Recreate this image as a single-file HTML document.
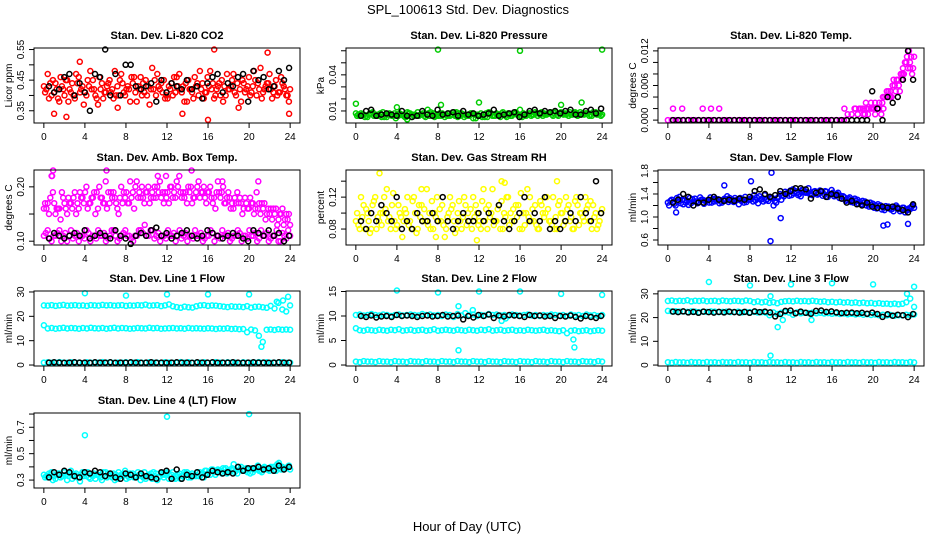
<!DOCTYPE html>
<html><head><meta charset="utf-8"><style>
html,body{margin:0;padding:0;background:#fff}
svg{display:block;font-family:"Liberation Sans",sans-serif}
</style></head><body>
<svg id="chart" width="936" height="540" viewBox="0 0 936 540" xmlns="http://www.w3.org/2000/svg">
<rect width="936" height="540" fill="#fff"/>
<text x="468" y="14" text-anchor="middle" font-size="13">SPL_100613  Std. Dev. Diagnostics</text>
<text x="467" y="531" text-anchor="middle" font-size="13">Hour of Day (UTC)</text>
</svg>
<script>
const xTickValues=[0,4,8,12,16,20,24];
const co2Red1=[0.43,0.47,0.40,0.44,0.38,0.42,0.45,0.41,0.39,0.46,0.43,0.40,0.48,0.42,0.37,0.44,0.41,0.45,0.39,0.43,0.47,0.40,0.42,0.44,0.38,0.46,0.41,0.43,0.49,0.40,0.42,0.45,0.39,0.44,0.41,0.47,0.43,0.38,0.42,0.46,0.40,0.44,0.41,0.48,0.39,0.43,0.45,0.40,0.42,0.47,0.44,0.38,0.41,0.46,0.43,0.40,0.49,0.42,0.44,0.39,0.45,0.41,0.43,0.40];
const co2Red2=[0.41,0.39,0.45,0.42,0.46,0.40,0.38,0.44,0.47,0.41,0.37,0.45,0.42,0.40,0.46,0.39,0.43,0.41,0.48,0.40,0.44,0.42,0.38,0.46,0.43,0.40,0.45,0.37,0.42,0.47,0.44,0.39,0.43,0.40,0.46,0.42,0.38,0.45,0.41,0.43,0.48,0.39,0.46,0.42,0.40,0.44,0.38,0.47,0.43,0.41,0.36,0.45,0.42,0.40,0.48,0.44,0.39,0.43,0.47,0.41,0.40,0.46,0.42,0.38];
const co2Red3=[0.42,0.44,0.41,0.39,0.43,0.45,0.42,0.40,0.44,0.42,0.41,0.43,0.45,0.39,0.42,0.41,0.44,0.42,0.40,0.45,0.41,0.43,0.46,0.41,0.42,0.44,0.40,0.42,0.45,0.43,0.41,0.40,0.42,0.46,0.43,0.41,0.44,0.42,0.39,0.44,0.42,0.41,0.43,0.44,0.42,0.40,0.43,0.42,0.45,0.40,0.42,0.44,0.43,0.41,0.45,0.42,0.41,0.44,0.42,0.43,0.41,0.44,0.40,0.42];
const co2OutHours=[2.2,3.5,16.0,16.6,21.8,13.5,23.9,1.0,7.2];
const co2OutValues=[0.33,0.51,0.32,0.55,0.54,0.34,0.34,0.34,0.36];
const co2Black=[0.43,0.41,0.42,0.46,0.47,0.40,0.44,0.41,0.35,0.47,0.46,0.55,0.40,0.47,0.40,0.50,0.50,0.43,0.42,0.43,0.44,0.38,0.45,0.41,0.44,0.43,0.42,0.45,0.42,0.43,0.39,0.44,0.46,0.47,0.41,0.44,0.43,0.46,0.47,0.38,0.48,0.45,0.46,0.42,0.43,0.48,0.45,0.49];
const presGreen1=[0.008,0.006,0.007,0.005,0.008,0.007,0.006,0.009,0.005,0.007,0.008,0.006,0.007,0.005,0.008,0.006,0.009,0.007,0.005,0.006,0.008,0.007,0.006,0.005,0.008,0.007,0.009,0.006,0.005,0.007,0.008,0.004,0.006,0.007,0.005,0.008,0.006,0.007,0.009,0.005,0.006,0.008,0.007,0.005,0.006,0.008,0.007,0.006,0.009,0.007,0.008,0.006,0.007,0.009,0.008,0.006,0.007,0.008,0.009,0.007,0.008,0.006,0.009,0.008];
const presGreen2=[0.006,0.008,0.005,0.007,0.009,0.006,0.008,0.005,0.007,0.006,0.004,0.008,0.006,0.009,0.005,0.007,0.006,0.008,0.007,0.009,0.005,0.006,0.008,0.007,0.006,0.009,0.005,0.008,0.007,0.006,0.004,0.007,0.008,0.005,0.009,0.006,0.008,0.005,0.007,0.008,0.006,0.009,0.005,0.008,0.007,0.006,0.009,0.008,0.006,0.007,0.009,0.008,0.006,0.008,0.007,0.009,0.008,0.006,0.007,0.008,0.006,0.009,0.007,0.006];
const presGreen3=[0.007,0.007,0.006,0.008,0.006,0.007,0.005,0.007,0.008,0.006,0.007,0.007,0.005,0.008,0.007,0.006,0.007,0.006,0.008,0.007,0.006,0.008,0.007,0.006,0.007,0.006,0.008,0.007,0.006,0.008,0.007,0.006,0.005,0.008,0.007,0.006,0.007,0.008,0.006,0.007,0.008,0.007,0.006,0.007,0.008,0.007,0.008,0.007,0.008,0.008,0.007,0.009,0.008,0.007,0.008,0.007,0.009,0.007,0.008,0.008,0.007,0.008,0.008,0.007];
const presOutHours=[0,4,8,8.3,12,16,20,22,24,7,16,5];
const presOutValues=[0.016,0.013,0.061,0.015,0.017,0.060,0.015,0.017,0.061,0.011,0.011,0.003];
const presBlack=[0.006,0.010,0.011,0.006,0.007,0.008,0.007,0.006,0.010,0.006,0.005,0.006,0.010,0.007,0.006,0.011,0.007,0.008,0.009,0.006,0.010,0.007,0.008,0.006,0.007,0.008,0.011,0.006,0.007,0.008,0.009,0.005,0.007,0.010,0.011,0.008,0.010,0.009,0.010,0.008,0.010,0.011,0.007,0.007,0.010,0.011,0.008,0.012];
const tempMag1=[0,0,0,0,0,0,0,0,0,0,0,0,0,0,0,0,0,0,0,0,0,0,0,0,0,0,0,0,0,0,0,0,0,0,0,0,0,0,0,0,0,0,0,0,0.000,0.000,0.001,0.001,0.002,0.002,0.001,0.002,0.002,0.003,0.002,0.004,0.005,0.004,0.006,0.007,0.008,0.010,0.009,0.011];
const tempMagHours=[17.2,18.2,18.8,19.0,19.3,19.6,19.8,20.1,20.4,20.6,20.9,21.1,21.3,21.5,21.7,21.9,22.1,22.3,22.5,22.7,22.9,23.1,23.3,23.5,23.7,23.9,20.2,21.0,21.8,22.6,23.4,23.8,0.5,1.4,3.4,4.2,5.0,19.5,20.0,22.0,21.6,22.2,22.8,23.0,23.6,20.8,19.2,18.5];
const tempMagValues=[0.002,0.002,0.002,0.002,0.003,0.002,0.003,0.002,0.002,0.003,0.003,0.004,0.004,0.005,0.005,0.006,0.006,0.007,0.006,0.008,0.009,0.010,0.011,0.012,0.011,0.009,0.001,0.002,0.004,0.005,0.009,0.008,0.002,0.002,0.002,0.002,0.002,0.001,0.002,0.007,0.004,0.005,0.007,0.008,0.010,0.001,0.001,0.001];
const tempBlack=[0,0,0,0,0,0,0,0,0,0,0,0,0,0,0,0,0,0,0,0,0,0,0,0,0,0,0,0,0,0,0,0,0,0,0,0,0,0,0.000,0.005,0.002,0.000,0.004,0.003,0.004,0.007,0.012,0.007];
const ambUpper1=[0.16,0.17,0.22,0.15,0.16,0.18,0.15,0.17,0.19,0.16,0.18,0.20,0.17,0.19,0.16,0.18,0.21,0.17,0.19,0.16,0.20,0.18,0.17,0.19,0.21,0.18,0.17,0.20,0.19,0.18,0.21,0.17,0.19,0.20,0.18,0.22,0.19,0.17,0.20,0.18,0.21,0.19,0.17,0.20,0.18,0.21,0.19,0.17,0.18,0.16,0.19,0.17,0.18,0.16,0.17,0.19,0.15,0.17,0.16,0.14,0.16,0.15,0.13,0.14];
const ambUpper2=[0.17,0.15,0.19,0.16,0.14,0.17,0.18,0.16,0.15,0.19,0.17,0.16,0.18,0.15,0.20,0.17,0.16,0.19,0.18,0.15,0.17,0.19,0.21,0.16,0.18,0.20,0.19,0.17,0.18,0.20,0.18,0.19,0.17,0.18,0.21,0.19,0.18,0.20,0.17,0.19,0.18,0.20,0.19,0.18,0.16,0.19,0.20,0.18,0.16,0.18,0.17,0.15,0.17,0.18,0.15,0.16,0.17,0.14,0.15,0.16,0.13,0.15,0.14,0.15];
const ambUpper3=[0.16,0.18,0.17,0.16,0.19,0.16,0.17,0.18,0.17,0.18,0.19,0.17,0.18,0.19,0.18,0.17,0.19,0.18,0.17,0.18,0.19,0.17,0.18,0.20,0.19,0.18,0.19,0.18,0.20,0.19,0.19,0.18,0.20,0.19,0.20,0.18,0.19,0.19,0.18,0.20,0.19,0.18,0.19,0.17,0.19,0.18,0.17,0.19,0.17,0.17,0.18,0.16,0.16,0.17,0.16,0.17,0.16,0.15,0.16,0.15,0.14,0.16,0.15,0.13];
const ambLower=[0.11,0.12,0.10,0.11,0.12,0.11,0.10,0.12,0.11,0.10,0.11,0.12,0.10,0.11,0.12,0.11,0.10,0.11,0.12,0.10,0.11,0.12,0.11,0.10,0.11,0.12,0.13,0.11,0.12,0.11,0.10,0.11,0.12,0.11,0.10,0.12,0.11,0.10,0.11,0.12,0.11,0.10,0.11,0.12,0.10,0.11,0.12,0.11,0.10,0.11,0.12,0.10,0.11,0.12,0.11,0.10,0.12,0.11,0.10,0.11,0.12,0.10,0.11,0.12];
const ambLower2=[0.115,0.105,0.11,0.115,0.10,0.115,0.11,0.105,0.115,0.11,0.105,0.115,0.11,0.105,0.11,0.115,0.105,0.12,0.11,0.105,0.115,0.11,0.105,0.11,0.12,0.115,0.11,0.12,0.105,0.115,0.11,0.105,0.11,0.115,0.11,0.105,0.115,0.11,0.105,0.11,0.115,0.105,0.11,0.115,0.11,0.105,0.11,0.115,0.105,0.11,0.115,0.11,0.105,0.11,0.115,0.105,0.11,0.115,0.105,0.11,0.10,0.115,0.105,0.11];
const ambOutHours=[0.8,0.9,6.1,11.1,11.9,17.4,20.9,14.4];
const ambOutValues=[0.22,0.23,0.23,0.22,0.22,0.21,0.21,0.23];
const ambBlack=[0.105,0.115,0.11,0.105,0.11,0.115,0.11,0.12,0.105,0.11,0.115,0.11,0.105,0.12,0.11,0.105,0.095,0.11,0.115,0.11,0.12,0.125,0.11,0.115,0.105,0.11,0.115,0.12,0.11,0.105,0.11,0.12,0.115,0.11,0.105,0.11,0.115,0.11,0.105,0.10,0.12,0.115,0.11,0.12,0.11,0.115,0.10,0.11];
const rhYellow1=[0.09,0.08,0.11,0.10,0.08,0.12,0.09,0.10,0.13,0.08,0.09,0.11,0.07,0.10,0.09,0.12,0.08,0.11,0.09,0.10,0.08,0.12,0.09,0.07,0.10,0.11,0.08,0.09,0.12,0.10,0.08,0.11,0.09,0.13,0.08,0.10,0.09,0.11,0.08,0.12,0.10,0.09,0.11,0.08,0.10,0.12,0.09,0.08,0.11,0.10,0.09,0.12,0.08,0.10,0.09,0.11,0.08,0.12,0.10,0.09,0.11,0.08,0.10,0.09];
const rhYellow2=[0.10,0.12,0.08,0.09,0.11,0.08,0.10,0.12,0.09,0.11,0.08,0.10,0.09,0.12,0.08,0.10,0.11,0.09,0.13,0.08,0.10,0.09,0.11,0.08,0.12,0.09,0.10,0.08,0.11,0.09,0.12,0.10,0.08,0.09,0.11,0.13,0.09,0.08,0.10,0.12,0.09,0.11,0.08,0.10,0.13,0.09,0.11,0.08,0.10,0.12,0.09,0.08,0.11,0.10,0.12,0.09,0.08,0.11,0.10,0.12,0.09,0.11,0.08,0.10];
const rhYellow3=[0.085,0.095,0.105,0.075,0.115,0.095,0.085,0.105,0.095,0.125,0.085,0.095,0.105,0.085,0.115,0.075,0.095,0.105,0.085,0.115,0.095,0.105,0.085,0.095,0.105,0.075,0.115,0.095,0.085,0.105,0.095,0.085,0.115,0.105,0.095,0.085,0.105,0.115,0.095,0.085,0.105,0.095,0.125,0.085,0.095,0.105,0.085,0.115,0.095,0.105,0.085,0.095,0.115,0.085,0.105,0.095,0.115,0.085,0.095,0.105,0.115,0.095,0.085,0.105];
const rhOutHours=[2.3,7.8,11.8,14.2,14.5,19.6,6.4];
const rhOutValues=[0.15,0.07,0.066,0.14,0.138,0.14,0.13];
const rhBlack=[0.09,0.08,0.10,0.09,0.11,0.10,0.09,0.12,0.08,0.09,0.08,0.10,0.09,0.09,0.10,0.09,0.12,0.09,0.08,0.09,0.10,0.09,0.09,0.10,0.09,0.10,0.09,0.11,0.09,0.08,0.09,0.10,0.12,0.09,0.10,0.09,0.12,0.08,0.09,0.08,0.09,0.10,0.09,0.12,0.10,0.09,0.14,0.10];
const flowBlue1=[1.25,1.30,1.20,1.35,1.22,1.28,1.24,1.32,1.26,1.30,1.28,1.34,1.27,1.31,1.25,1.29,1.33,1.26,1.30,1.28,1.35,1.31,1.27,1.34,1.30,1.38,1.28,1.33,1.25,1.40,1.36,1.42,1.38,1.45,1.40,1.47,1.43,1.39,1.45,1.41,1.37,1.44,1.40,1.36,1.42,1.32,1.28,1.34,1.25,1.30,1.22,1.27,1.18,1.23,1.15,1.20,1.12,1.18,1.14,1.20,1.10,1.16,1.12,1.18];
const flowBlue2=[1.20,1.26,1.33,1.24,1.29,1.21,1.31,1.27,1.34,1.23,1.29,1.25,1.32,1.24,1.30,1.36,1.28,1.33,1.22,1.31,1.26,1.30,1.38,1.24,1.32,1.29,1.35,1.20,1.33,1.30,1.44,1.37,1.48,1.42,1.36,1.44,1.50,1.38,1.42,1.46,1.40,1.35,1.47,1.38,1.33,1.36,1.30,1.26,1.32,1.23,1.28,1.20,1.25,1.16,1.22,1.13,1.19,1.15,1.10,1.17,1.13,1.08,1.15,1.20];
const flowBlue3=[1.28,1.23,1.27,1.30,1.25,1.33,1.27,1.24,1.30,1.28,1.25,1.31,1.29,1.27,1.32,1.26,1.30,1.29,1.33,1.25,1.30,1.33,1.29,1.36,1.27,1.31,1.33,1.28,1.35,1.38,1.40,1.46,1.41,1.38,1.47,1.42,1.40,1.44,1.39,1.43,1.45,1.38,1.42,1.40,1.37,1.34,1.32,1.30,1.28,1.26,1.25,1.23,1.21,1.20,1.19,1.17,1.16,1.13,1.17,1.14,1.16,1.12,1.14,1.16];
const flowOutHours=[10.0,10.1,8.1,11,21,21.4,23.4,5.5,0.8];
const flowOutValues=[0.58,1.77,1.62,0.98,0.85,0.87,0.88,1.55,1.08];
const flowBlack=[1.25,1.30,1.40,1.35,1.20,1.25,1.25,1.30,1.35,1.30,1.28,1.30,1.28,1.32,1.30,1.35,1.45,1.48,1.40,1.35,1.38,1.45,1.40,1.45,1.50,1.50,1.48,1.32,1.42,1.45,1.35,1.40,1.38,1.32,1.25,1.28,1.22,1.20,1.25,1.18,1.16,1.18,1.16,1.18,1.15,1.12,1.08,1.22];
const line1Upper=[24.5,24.4,24.6,24.3,24.5,24.7,24.4,24.5,24.6,24.4,24.5,24.3,24.6,24.5,24.4,24.7,24.5,24.6,24.4,24.5,24.6,24.3,24.5,24.4,24.6,24.5,24.8,24.4,24.5,24.6,24.2,24.5,24.9,24.1,23.8,23.5,24.0,23.7,23.6,24.1,24.5,24.6,24.3,24.5,24.4,24.2,24.0,23.8,24.1,23.9,24.0,23.8,24.2,23.6,23.9,24.0,23.7,23.5,24.3,23.2,25.5,22.8,22.0,24.5];
const line1Middle=[16.3,15.0,15.2,14.9,15.1,15.3,15.0,15.2,15.1,14.9,15.2,15.0,15.3,15.1,15.0,15.2,14.9,15.1,15.3,15.0,15.2,15.1,14.9,15.0,15.2,15.1,15.0,15.3,15.1,15.2,14.9,15.0,15.1,15.2,15.0,15.1,14.9,15.2,15.0,15.1,15.0,14.9,15.1,15.0,14.8,15.0,14.9,15.1,14.8,14.9,14.7,14.8,13.5,14.6,14.2,12.0,9.5,14.5,14.6,14.4,14.7,14.5,14.6,14.5];
const line1Lower=[1.0,1.1,0.9,1.0,1.2,1.0,0.9,1.1,1.0,1.0,0.8,1.1,1.0,0.9,1.0,1.2,1.0,1.1,0.9,1.0,1.0,1.1,0.9,1.0,1.2,1.0,0.9,1.1,1.0,1.0,0.8,1.1,1.0,0.9,1.0,1.2,1.0,1.1,0.9,1.0,1.0,1.1,0.9,1.0,1.2,1.0,0.9,1.1,1.0,1.0,0.8,1.1,1.0,0.9,1.0,1.2,1.0,1.1,0.9,1.0,1.0,1.1,0.9,1.0];
const line1OutHours=[4,8,12,16,20,23.3,23.8,21.2,22.7];
const line1OutValues=[29.5,28.5,29,29,29,26.5,28,7.5,26];
const line1Black=[1.0,1.1,1.0,0.9,1.0,1.1,1.0,1.0,0.9,1.1,1.0,1.0,1.1,0.9,1.0,1.0,1.1,1.0,0.9,1.0,1.1,1.0,1.0,0.9,1.0,1.1,1.0,1.0,0.9,1.1,1.0,1.0,1.1,0.9,1.0,1.0,1.1,1.0,0.9,1.0,1.1,1.0,1.0,0.9,1.0,1.1,1.0,1.0];
const line2Upper=[10.2,10.3,10.1,10.2,10.4,10.2,10.1,10.3,10.2,10.0,10.2,10.3,10.1,10.2,10.3,10.2,10.1,10.4,10.2,10.3,10.1,10.2,10.0,10.3,10.2,9.8,10.4,10.1,10.6,10.2,10.3,10.0,10.2,10.1,10.4,10.2,10.3,10.1,10.2,10.0,10.3,10.2,10.1,10.2,10.3,10.1,10.2,10.0,10.2,10.1,10.3,10.2,10.1,10.2,10.0,10.3,10.1,10.2,10.0,10.3,10.1,10.2,10.0,10.2];
const line2Middle=[7.5,7.1,7.0,7.2,7.1,7.0,7.2,7.1,7.0,7.2,7.1,7.3,7.0,7.1,7.2,7.0,7.1,7.2,7.0,7.1,7.3,7.0,7.1,7.2,7.1,7.0,7.2,7.1,7.0,7.2,7.1,7.0,7.2,7.1,7.3,7.0,7.1,7.2,7.0,7.1,7.2,7.0,7.1,7.0,7.2,7.1,7.0,7.1,7.2,7.0,7.1,7.0,6.9,7.1,6.5,7.0,7.1,6.9,7.0,7.1,6.9,7.0,7.1,7.0];
const line2Lower=[0.7,0.6,0.8,0.7,0.7,0.6,0.8,0.7,0.7,0.6,0.8,0.7,0.7,0.6,0.8,0.7,0.7,0.6,0.8,0.7,0.7,0.6,0.8,0.7,0.7,0.6,0.8,0.7,0.7,0.6,0.8,0.7,0.7,0.6,0.8,0.7,0.7,0.6,0.8,0.7,0.7,0.6,0.8,0.7,0.7,0.6,0.8,0.7,0.7,0.6,0.8,0.7,0.7,0.6,0.8,0.7,0.7,0.6,0.8,0.7,0.7,0.6,0.8,0.7];
const line2OutHours=[4,8,12,16,20,24,10,10,21.3,21.2,14.2,11.4,14.6];
const line2OutValues=[15.2,14.8,15,15,14.5,14.3,3,12,3.6,5.2,9.0,11.2,9.5];
const line2Black=[10.0,9.8,10.1,9.7,9.9,10.0,9.8,10.2,10.0,10.1,10.0,9.8,10.0,10.1,9.9,10.0,10.2,9.9,10.0,10.1,9.3,10.0,9.7,10.2,10.0,10.3,9.6,10.1,9.9,10.2,10.1,10.0,9.8,10.2,10.0,10.1,9.9,10.0,9.6,10.0,9.9,10.1,9.8,9.5,10.0,9.8,9.6,10.0];
const line3Upper=[27.0,27.2,26.9,27.1,27.0,27.3,26.8,27.1,27.0,27.2,26.9,27.0,27.1,26.8,27.2,27.0,26.9,27.1,27.0,26.8,27.2,27.0,26.5,26.8,26.4,26.7,26.2,26.5,26.0,26.6,26.9,27.0,26.8,27.1,26.9,27.0,26.8,27.1,26.9,26.7,26.8,26.5,26.7,26.4,26.6,26.3,26.5,26.2,26.4,26.1,26.3,26.0,26.2,25.9,26.1,25.8,25.9,25.7,25.9,25.6,25.8,26.5,28.0,24.5];
const line3Middle=[22.8,22.6,22.7,22.5,22.6,22.4,22.6,22.5,22.3,22.5,22.4,22.6,22.5,22.3,22.4,22.5,22.3,22.4,22.5,22.2,22.4,22.3,22.4,22.2,22.3,22.1,21.0,22.2,21.5,22.0,22.3,22.1,21.2,22.2,21.8,22.0,21.9,22.1,21.8,22.0,21.7,21.9,21.6,21.8,21.5,21.7,21.4,21.6,21.3,21.5,21.2,21.4,21.1,21.3,21.0,21.2,20.9,21.1,20.8,21.0,20.9,21.2,21.0,21.3];
const line3Lower=[1.2,1.0,1.3,1.1,1.2,1.0,1.3,1.1,1.2,1.0,1.3,1.1,1.2,1.0,1.3,1.1,1.2,1.0,1.3,1.1,1.2,1.0,1.3,1.1,1.2,1.0,1.3,1.1,1.2,1.0,1.3,1.1,1.2,1.0,1.3,1.1,1.2,1.0,1.3,1.1,1.2,1.0,1.3,1.1,1.2,1.0,1.3,1.1,1.2,1.0,1.3,1.1,1.2,1.0,1.3,1.1,1.2,1.0,1.3,1.1,1.2,1.0,1.3,1.1];
const line3OutHours=[4,8,12,16,20,24,10,10,10.7,14,23.3,11.2];
const line3OutValues=[35,33.5,34,34.5,34,33,4,29,16,19,30,19];
const line3Black=[22.5,22.3,22.6,22.2,22.4,22.0,22.5,22.3,22.1,22.4,22.2,22.5,22.3,22.1,22.4,22.0,22.6,22.3,22.5,22.2,20.5,21.5,22.8,23.0,21.8,22.5,22.0,21.6,22.8,23.0,22.4,22.6,22.2,21.9,22.0,22.1,21.8,22.0,21.6,22.1,21.5,20.3,21.4,20.8,21.2,21.0,20.2,21.5];
const line4Cyan1=[0.34,0.32,0.36,0.31,0.35,0.33,0.30,0.37,0.34,0.32,0.36,0.33,0.31,0.35,0.34,0.30,0.36,0.33,0.35,0.31,0.34,0.37,0.32,0.35,0.33,0.30,0.36,0.34,0.31,0.35,0.33,0.32,0.36,0.34,0.31,0.35,0.33,0.36,0.32,0.34,0.33,0.35,0.37,0.34,0.36,0.38,0.35,0.39,0.36,0.38,0.35,0.40,0.37,0.38,0.36,0.39,0.37,0.40,0.38,0.39,0.37,0.41,0.38,0.40];
const line4Cyan2=[0.32,0.35,0.30,0.34,0.32,0.36,0.33,0.31,0.35,0.29,0.33,0.36,0.34,0.31,0.33,0.36,0.32,0.34,0.30,0.36,0.33,0.31,0.35,0.32,0.36,0.34,0.31,0.33,0.36,0.30,0.35,0.34,0.31,0.36,0.33,0.31,0.36,0.32,0.35,0.33,0.36,0.32,0.35,0.38,0.34,0.37,0.39,0.35,0.38,0.36,0.40,0.37,0.39,0.35,0.38,0.41,0.36,0.39,0.37,0.40,0.42,0.38,0.39,0.41];
const line4Cyan3=[0.33,0.34,0.33,0.35,0.33,0.34,0.35,0.33,0.32,0.34,0.35,0.32,0.33,0.34,0.32,0.33,0.35,0.32,0.34,0.33,0.35,0.33,0.34,0.33,0.34,0.32,0.33,0.35,0.33,0.32,0.34,0.35,0.33,0.32,0.34,0.33,0.35,0.34,0.33,0.36,0.34,0.37,0.36,0.38,0.37,0.36,0.38,0.37,0.39,0.37,0.38,0.38,0.36,0.39,0.38,0.37,0.39,0.38,0.40,0.38,0.39,0.40,0.39,0.38];
const line4OutHours=[4,12,20,22.9,18.5];
const line4OutValues=[0.64,0.78,0.80,0.43,0.42];
const line4Black=[0.32,0.36,0.34,0.37,0.36,0.33,0.32,0.36,0.35,0.37,0.36,0.33,0.35,0.32,0.31,0.35,0.34,0.32,0.35,0.33,0.32,0.31,0.36,0.37,0.31,0.38,0.31,0.34,0.33,0.36,0.32,0.34,0.37,0.36,0.35,0.36,0.35,0.40,0.37,0.39,0.39,0.40,0.38,0.39,0.37,0.41,0.38,0.40];

const NS='http://www.w3.org/2000/svg';
const svg=document.getElementById('chart');
function el(tag,attrs,parent){const e=document.createElementNS(NS,tag);for(const k in attrs)e.setAttribute(k,attrs[k]);(parent||svg).appendChild(e);return e;}
function interleavedHours(n,k,K){return Array.from({length:n},(_,i)=>(i*K+k)*24/(n*K-1));}
function blackHours(n){return Array.from({length:n},(_,i)=>0.5+i*23.4/(n-1));}

const RED='#ff0000',GRN='#00cd00',MAG='#ff00ff',YEL='#ffff00',BLU='#0000ff',CYA='#00ffff',BLK='#000000';
// series: [color, hours | 'b' | null, values, interleaveIndex, interleaveCount]
const panels=[
 {name:'co2',title:'Stan. Dev. Li-820 CO2',yl:'Licor ppm',col:0,row:0,dom:[0.31,0.555],ticks:[0.35,0.40,0.45,0.50,0.55],labels:['0.35','','0.45','','0.55'],
  series:[[RED,null,co2Red1,0,3],[RED,null,co2Red2,1,3],[RED,null,co2Red3,2,3],[RED,co2OutHours,co2OutValues],[BLK,'b',co2Black]]},
 {name:'pressure',title:'Stan. Dev. Li-820 Pressure',yl:'kPa',col:1,row:0,dom:[0,0.0623],ticks:[0.01,0.02,0.03,0.04,0.05,0.06],labels:['0.01','','','0.04','',''],
  series:[[GRN,null,presGreen1,0,3],[GRN,null,presGreen2,1,3],[GRN,null,presGreen3,2,3],[GRN,presOutHours,presOutValues],[BLK,'b',presBlack]]},
 {name:'licor-temp',title:'Stan. Dev. Li-820 Temp.',yl:'degrees C',col:2,row:0,dom:[-0.0005,0.0125],ticks:[0,0.002,0.004,0.006,0.008,0.010,0.012],labels:['0.000','','','0.006','','','0.012'],
  series:[[MAG,null,tempMag1,0,1],[MAG,tempMagHours,tempMagValues],[BLK,'b',tempBlack]]},
 {name:'amb-temp',title:'Stan. Dev. Amb. Box Temp.',yl:'degrees C',col:0,row:1,dom:[0.093,0.231],ticks:[0.10,0.15,0.20],labels:['0.10','','0.20'],
  series:[[MAG,null,ambUpper1,0,3],[MAG,null,ambUpper2,1,3],[MAG,null,ambUpper3,2,3],[MAG,null,ambLower,0,2],[MAG,null,ambLower2,1,2],[MAG,ambOutHours,ambOutValues],[BLK,'b',ambBlack]]},
 {name:'gas-rh',title:'Stan. Dev. Gas Stream RH',yl:'percent',col:1,row:1,dom:[0.06,0.154],ticks:[0.08,0.10,0.12,0.14],labels:['0.08','','0.12',''],
  series:[[YEL,null,rhYellow1,0,3],[YEL,null,rhYellow2,1,3],[YEL,null,rhYellow3,2,3],[YEL,rhOutHours,rhOutValues],[BLK,'b',rhBlack]]},
 {name:'sample-flow',title:'Stan. Dev. Sample Flow',yl:'ml/min',col:2,row:1,dom:[0.513,1.817],ticks:[0.6,0.8,1.0,1.2,1.4,1.6,1.8],labels:['0.6','','1.0','','1.4','','1.8'],
  series:[[BLU,null,flowBlue1,0,3],[BLU,null,flowBlue2,1,3],[BLU,null,flowBlue3,2,3],[BLU,flowOutHours,flowOutValues],[BLK,'b',flowBlack]]},
 {name:'line1-flow',title:'Stan. Dev. Line 1 Flow',yl:'ml/min',col:0,row:2,dom:[-0.4,30.4],ticks:[0,10,20,30],labels:['0','10','20','30'],
  series:[[CYA,null,line1Upper,0,1],[CYA,null,line1Middle,0,1],[CYA,null,line1Lower,0,1],[CYA,line1OutHours,line1OutValues],[BLK,'b',line1Black]]},
 {name:'line2-flow',title:'Stan. Dev. Line 2 Flow',yl:'ml/min',col:1,row:2,dom:[-0.2,15.1],ticks:[0,5,10,15],labels:['0','5','10','15'],
  series:[[CYA,null,line2Upper,0,1],[CYA,null,line2Middle,0,1],[CYA,null,line2Lower,0,1],[CYA,line2OutHours,line2OutValues],[BLK,'b',line2Black]]},
 {name:'line3-flow',title:'Stan. Dev. Line 3 Flow',yl:'ml/min',col:2,row:2,dom:[-0.4,31.2],ticks:[0,10,20,30],labels:['0','10','20','30'],
  series:[[CYA,null,line3Upper,0,1],[CYA,null,line3Middle,0,1],[CYA,null,line3Lower,0,1],[CYA,line3OutHours,line3OutValues],[BLK,'b',line3Black]]},
 {name:'line4-flow',title:'Stan. Dev. Line 4 (LT) Flow',yl:'ml/min',col:0,row:3,dom:[0.24,0.808],ticks:[0.3,0.4,0.5,0.6,0.7,0.8],labels:['0.3','','0.5','','0.7',''],
  series:[[CYA,null,line4Cyan1,0,3],[CYA,null,line4Cyan2,1,3],[CYA,null,line4Cyan3,2,3],[CYA,line4OutHours,line4OutValues],[BLK,'b',line4Black]]}
];
const rowTops=[48,170,291,413], BOXH=75, BOXW=266;
panels.forEach(p=>{
  const L=34+312*p.col, T=rowTops[p.row], R=L+BOXW, B=T+BOXH;
  const g=el('g',{});
  
  
  const xs=h=>L+(h+0.96)/25.92*BOXW;
  const ys=v=>B-(v-p.dom[0])/(p.dom[1]-p.dom[0])*BOXH;
  const t=el('text',{x:(L+R)/2,y:T-9,'text-anchor':'middle','font-size':11,'font-weight':'bold'},g);
  t.textContent=p.title;
  
  
  const pts=el('g',{fill:'none','stroke-width':1.5},g);
  
  
  p.series.forEach(s=>{
    const vals=s[2];
    let hrs;
    if(s[1]==='b') hrs=blackHours(vals.length);
    else if(s[1]) hrs=s[1];
    else hrs=interleavedHours(vals.length,s[3],s[4]);
    vals.forEach((v,i)=>{
      const c=el('circle',{cx:xs(hrs[i]).toFixed(1),cy:ys(v).toFixed(1),r:2.5,stroke:s[0]},pts);
      
      
    });
  });
  const box=el('rect',{x:L,y:T,width:BOXW,height:BOXH,fill:'none',stroke:'#000','stroke-width':1},g);
  
  
  const xa=el('g',{stroke:'#000','stroke-width':1},g);
  
  
  el('line',{x1:xs(0),x2:xs(24),y1:B,y2:B},xa);
  xTickValues.forEach(v=>{
    el('line',{x1:xs(v),x2:xs(v),y1:B,y2:B+5},xa);
    const tx=el('text',{x:xs(v),y:B+17,'text-anchor':'middle','font-size':10,stroke:'none',fill:'#000'},xa);
    tx.textContent=v;
    
    
  });
  const ya=el('g',{stroke:'#000','stroke-width':1},g);
  
  
  el('line',{x1:L,x2:L,y1:ys(p.ticks[0]),y2:ys(p.ticks[p.ticks.length-1])},ya);
  p.ticks.forEach((v,i)=>{
    const y=ys(v);
    el('line',{x1:L-5,x2:L,y1:y,y2:y},ya);
    if(p.labels[i]){
      const tx=el('text',{x:0,y:0,'text-anchor':'middle','font-size':10,stroke:'none',fill:'#000',transform:`translate(${L-10},${y}) rotate(-90)`},ya);
      tx.textContent=p.labels[i];
      
      
    }
  });
  const yl=el('text',{x:0,y:0,'text-anchor':'middle','font-size':10,transform:`translate(${L-22},${(T+B)/2}) rotate(-90)`},g);
  yl.textContent=p.yl;
  
  
});
</script>
</body></html>
